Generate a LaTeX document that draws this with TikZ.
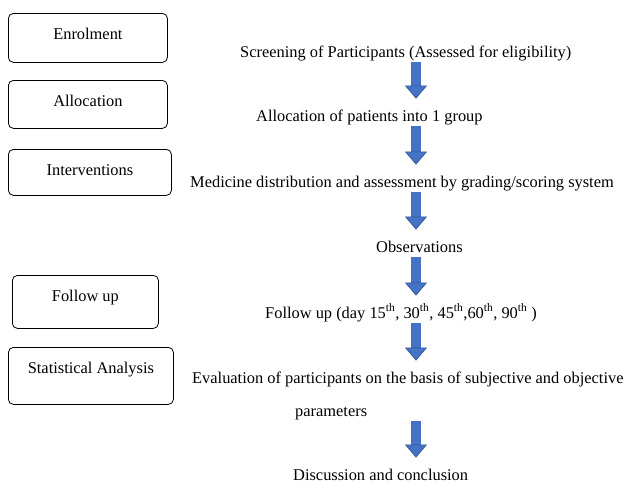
\documentclass[tikz,border=0pt]{standalone}
\usepackage{fontspec}
\setmainfont{Liberation Serif}
\usetikzlibrary{arrows.meta}
\definecolor{arrowblue}{HTML}{4472C4}
\definecolor{arrowedge}{HTML}{2F528F}
\tikzset{phase/.style={draw,rounded corners=5pt,line width=0.8pt,inner sep=0pt,text height=26pt,anchor=north west},
stage/.style={inner sep=0pt,text height=11.2pt,text depth=3.6pt,anchor=base west},
flow/.style={arrowblue,line width=10pt,shorten <=1.5pt,shorten >=11pt,-{Triangle[width=22pt,length=13pt,line width=0.6pt,color=arrowedge,fill=arrowblue]}}}

\begin{document}
\begin{tikzpicture}[x=1pt,y=-1pt,font=\fontsize{16.4}{19.7}\selectfont]
\useasboundingbox (0,0) rectangle (630,483);
% phases on the left
\node[phase,minimum width=159pt,text depth=23pt] (enrol) at (8,13) {Enrolment};
\node[phase,minimum width=159pt,text depth=22pt] (alloc) at (8,80) {Allocation};
\node[phase,minimum width=163pt,text depth=20pt] (interv) at (8,149) {Interventions};
\node[phase,minimum width=146pt,text depth=27pt] (followbox) at (12,275) {Follow up};
\node[phase,minimum width=165pt,text depth=31pt] (stats) at (8,347) {Statistical Analysis};
% steps
\coordinate (spine) at (416,0);
\node[stage] (scr) at (240,57) {Screening of Participants (Assessed for eligibility)};
\node[stage] (pat) at (256,121) {Allocation of patients into 1 group};
\node[stage] (med) at (190,187) {Medicine distribution and assessment by grading/scoring system};
\node[stage] (obs) at (376,252) {Observations};
\node[stage] (fol) at (265,318) {Follow up (day 15\textsuperscript{th}, 30\textsuperscript{th}, 45\textsuperscript{th},60\textsuperscript{th}, 90\textsuperscript{th} )};
\node[stage] (eval) at (192,383) {Evaluation of participants on the basis of subjective and objective};
\node[stage] (par) at (295,416) {parameters};
\node[stage] (disc) at (293,480) {Discussion and conclusion};
\foreach \a/\b in {scr/pat,pat/med,med/obs,obs/fol,fol/eval,par/disc}
\draw[flow](\a.south -| spine)--(\b.north -| spine);
\end{tikzpicture}
\end{document}
